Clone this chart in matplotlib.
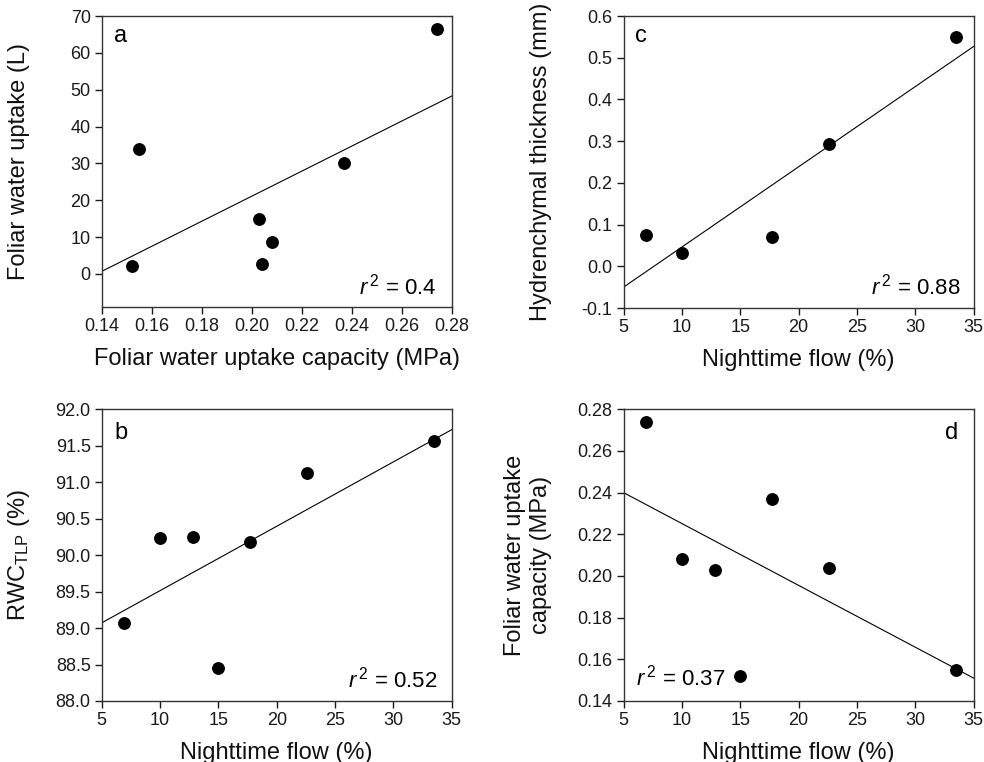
import numpy as np
import matplotlib
matplotlib.use('Agg')
from matplotlib import pyplot as plt
from matplotlib.ticker import FormatStrFormatter

plt.rcParams['font.family'] = ['Liberation Sans', 'DejaVu Sans']
plt.rcParams['mathtext.fontset'] = 'custom'
plt.rcParams['mathtext.rm'] = 'Liberation Sans'
plt.rcParams['mathtext.it'] = 'Liberation Sans:italic'
plt.rcParams['axes.unicode_minus'] = True

# panel a: foliar uptake capacity vs foliar water uptake
a_x = [0.152, 0.155, 0.203, 0.204, 0.208, 0.237, 0.274]
a_y = [2.2, 33.8, 14.8, 2.6, 8.6, 30.2, 66.5]
a_fit = [340.0, -46.9]     # slope, intercept

# panel c: nighttime flow vs hydrenchymal thickness
c_x = [6.9, 10.0, 17.7, 22.6, 33.5]
c_y = [0.075, 0.031, 0.070, 0.294, 0.549]
c_fit = [0.01923, -0.146]

# panel b: nighttime flow vs RWC at TLP
b_x = [6.9, 10.0, 12.8, 15.0, 17.7, 22.6, 33.5]
b_y = [89.07, 90.24, 90.25, 88.45, 90.18, 91.12, 91.57]
b_fit = [0.0883, 88.63]

# panel d: nighttime flow vs foliar uptake capacity
d_x = [6.9, 10.0, 12.8, 15.0, 17.7, 22.6, 33.5]
d_y = [0.274, 0.208, 0.203, 0.152, 0.237, 0.204, 0.155]
d_fit = [-0.002967, 0.2548]

fig = plt.figure(figsize=(9.84, 7.62), dpi=100)

panels = [
    # x, y, fit, rect, xlim, ylim, xticks, yticks, xfmt, yfmt, xlabel, ylabel, letter, letter pos, r2, r2 pos
    (a_x, a_y, a_fit, [0.1034, 0.597, 0.3557, 0.3819], (0.14, 0.28), (-9, 70),
     np.arange(0.14, 0.281, 0.02), np.arange(0, 71, 10), '%.2f', '%d',
     'Foliar water uptake capacity (MPa)', 'Foliar water uptake (L)',
     'a', (0.036, 0.93, 'left'), r'$\it{r}^{\,2}$ = 0.4', (0.957, 0.072, 'right')),
    (c_x, c_y, c_fit, [0.6338, 0.5958, 0.3557, 0.3832], (5, 35), (-0.1, 0.6),
     np.arange(5, 36, 5), np.arange(-0.1, 0.61, 0.1), '%d', '%.1f',
     'Nighttime flow (%)', 'Hydrenchymal thickness (mm)',
     'c', (0.033, 0.93, 'left'), r'$\it{r}^{\,2}$ = 0.88', (0.962, 0.075, 'right')),
    (b_x, b_y, b_fit, [0.1034, 0.0801, 0.3557, 0.3828], (5, 35), (88, 92),
     np.arange(5, 36, 5), np.arange(88, 92.01, 0.5), '%d', '%.1f',
     'Nighttime flow (%)', r'RWC$_{\mathrm{TLP}}$ (%)',
     'b', (0.036, 0.92, 'left'), r'$\it{r}^{\,2}$ = 0.52', (0.958, 0.074, 'right')),
    (d_x, d_y, d_fit, [0.6338, 0.0801, 0.3557, 0.3828], (5, 35), (0.14, 0.28),
     np.arange(5, 36, 5), np.arange(0.14, 0.281, 0.02), '%d', '%.2f',
     'Nighttime flow (%)', 'Foliar water uptake\ncapacity (MPa)',
     'd', (0.957, 0.92, 'right'), r'$\it{r}^{\,2}$ = 0.37', (0.036, 0.08, 'left')),
]

for (x, y, fit, rect, xlim, ylim, xt, yt, xf, yf, xl, yl,
     letter, lpos, r2, rpos) in panels:
    ax = fig.add_axes(rect)
    ax.scatter(x, y, s=68, color='black', zorder=3, clip_on=False)
    xx = np.array(xlim)
    ax.plot(xx, fit[0] * xx + fit[1], color='black', lw=0.8)
    ax.set_xlim(xlim)
    ax.set_ylim(ylim)
    ax.set_xticks(xt)
    ax.set_yticks(yt)
    ax.xaxis.set_major_formatter(FormatStrFormatter(xf))
    ax.yaxis.set_major_formatter(FormatStrFormatter(yf))
    ax.tick_params(direction='out', length=5, width=1, labelsize=13,
                   colors='#1a1a1a', top=False, right=False, pad=3)
    for s in ax.spines.values():
        s.set_linewidth(1.0)
        s.set_color('#333333')
    ax.set_xlabel(xl, fontsize=17, color='#111111')
    ax.set_ylabel(yl, fontsize=17, color='#111111', linespacing=1.25)
    ax.xaxis.set_label_coords(0.5, -0.178)
    ax.xaxis.label.set_va('center')
    ax.yaxis.set_label_coords(-0.235 if '\n' not in yl else -0.273, 0.5)
    ax.yaxis.label.set_va('center')
    ax.text(lpos[0], lpos[1], letter, transform=ax.transAxes, fontsize=17,
            ha=lpos[2], va='center')
    ax.text(rpos[0], rpos[1], r2, transform=ax.transAxes, fontsize=16,
            ha=rpos[2], va='center')

fig.savefig('out.png', dpi=100)
